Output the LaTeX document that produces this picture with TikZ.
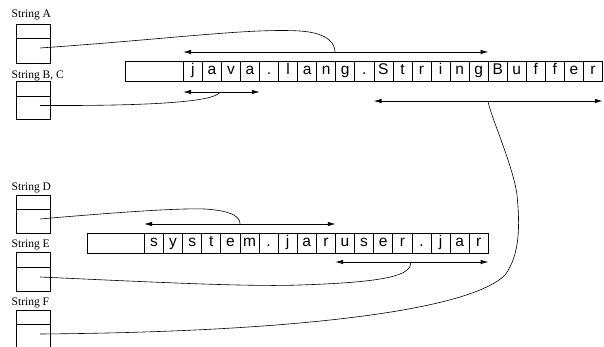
\documentclass[tikz,border=0pt]{standalone}
\usepackage{fontspec}
\setmainfont{Liberation Serif}
\newfontfamily\cellfont{Liberation Sans}
\usetikzlibrary{arrows.meta,calc}
\tikzset{
  cell/.style={draw, line width=0.7pt, minimum height=20pt, inner sep=0pt,
    anchor=west, font=\cellfont\fontsize{15.5}{15.5}\selectfont},
  lead/.style={draw, line width=0.7pt, minimum height=20pt, inner sep=0pt, anchor=west},
  reflbl/.style={anchor=west, inner sep=0pt, font=\fontsize{11.5}{11.5}\selectfont},
  refbox/.style={draw, line width=0.7pt, minimum width=34pt, inner sep=0pt, anchor=north west},
  span/.style={{Latex[length=8pt,width=4.5pt]}-{Latex[length=8pt,width=4.5pt]}, line width=0.9pt},
  link/.style={line width=0.6pt}
}
\begin{document}
\begin{tikzpicture}[x=1pt,y=-1pt]
\useasboundingbox (0,0) rectangle (604,347);

% ---- character array: java.lang.StringBuffer ----
\node[lead, minimum width=58pt] (hA) at (125,71.5) {};
\foreach \c [count=\i] in {j,a,v,a,.,l,a,n,g,.,S,t,r,i,n,g,B,u,f,f,e,r}
  \node[cell, minimum width=19.05pt] (t\i) at ({183+(\i-1)*19.05},71.5) {\strut\c};

% ---- character array: system.jaruser.jar ----
\node[lead, minimum width=57pt] (hB) at (87,243) {};
\foreach \c [count=\i] in {s,y,s,t,e,m,.,j,a,r,u,s,e,r,.,j,a,r}
  \node[cell, minimum width=19.11pt] (b\i) at ({144+(\i-1)*19.11},243) {\strut\c};

% ---- string references ----
\node[reflbl] (lA) at (11.5,15) {String A};
\node[refbox, minimum height=14pt] (rA1) at (16,24) {};
\node[refbox, minimum height=25pt] (rA2) at (16,38) {};
\node[reflbl] (lB) at (11.5,75.5) {String B, C};
\node[refbox, minimum height=15pt] (rB1) at (16,81) {};
\node[refbox, minimum height=23pt] (rB2) at (16,96) {};
\node[reflbl] (lD) at (11.5,188) {String D};
\node[refbox, minimum height=14pt] (rD1) at (16,195) {};
\node[refbox, minimum height=24pt] (rD2) at (16,209) {};
\node[reflbl] (lE) at (11.5,245) {String E};
\node[refbox, minimum height=15pt] (rE1) at (16,252) {};
\node[refbox, minimum height=24pt] (rE2) at (16,267) {};
\node[reflbl] (lF) at (11.5,303) {String F};
\node[refbox, minimum height=14pt] (rF1) at (16,310) {};
\node[refbox, minimum height=30pt] (rF2) at (16,324) {};

% pointer origins inside the value slots
\coordinate (pA) at (40,48);
\coordinate (pB) at (40,105.5);
\coordinate (pD) at (40,219);
\coordinate (pE) at (40,277);
\coordinate (pF) at (40,334);

% ---- substring ranges ----
\coordinate (yA) at (0,52);
\coordinate (yB) at (0,92);
\coordinate (yC) at (0,101);
\coordinate (yD) at (0,224);
\coordinate (yE) at (0,262);
\draw[span] (t1.west |- yA) coordinate (sA1) -- (t16.east |- yA) coordinate (sA2);
\draw[span] (t1.west |- yB) coordinate (sB1) -- (t4.east |- yB) coordinate (sB2);
\draw[span] (t11.west |- yC) coordinate (sC1) -- (t22.east |- yC) coordinate (sC2);
\draw[span] (b1.west |- yD) coordinate (sD1) -- (b10.east |- yD) coordinate (sD2);
\draw[span] (b11.west |- yE) coordinate (sE1) -- (b18.east |- yE) coordinate (sE2);

\coordinate (mA) at (335,52);
\coordinate (mB) at (220,92);
\coordinate (mC) at (488,101);
\coordinate (mD) at (240,224);
\coordinate (mE) at (411,262);

% ---- references to their ranges ----
\draw[link] (pA) .. controls (170,39) and (250,28) .. (300,31)
            .. controls (330,33) and (335,45) .. (mA);
\draw[link] (pB) .. controls (150,106) and (215,102) .. (mB);
\draw[link] (pD) .. controls (120,212) and (180,208) .. (205,209)
            .. controls (235,211) and (240,218) .. (mD);
\draw[link] (pE) .. controls (150,282) and (250,287) .. (300,285)
            .. controls (390,282) and (411,275) .. (mE);
\draw[link] (pF) .. controls (300,332) and (470,310) .. (505,275)
            .. controls (520,255) and (520,225) .. (517,195)
            .. controls (513,165) and (490,115) .. (mC);
\end{tikzpicture}
\end{document}
